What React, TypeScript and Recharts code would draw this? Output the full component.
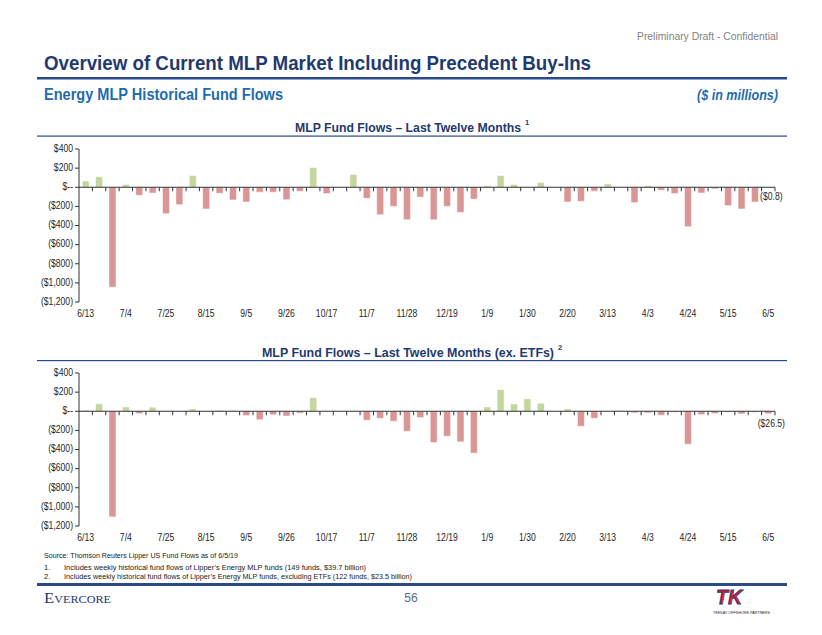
import { BarChart, Bar, XAxis, YAxis, Cell, ReferenceLine, LabelList } from "recharts";

const weeks = [
    "6/13", "6/20", "6/27", "7/4", "7/11", "7/18", "7/25", "8/1", "8/8", "8/15", "8/22", "8/29",
    "9/5", "9/12", "9/19", "9/26", "10/3", "10/10", "10/17", "10/24", "10/31", "11/7", "11/14", "11/21",
    "11/28", "12/5", "12/12", "12/19", "12/26", "1/2", "1/9", "1/16", "1/23", "1/30", "2/6", "2/13",
    "2/20", "2/27", "3/6", "3/13", "3/20", "3/27", "4/3", "4/10", "4/17", "4/24", "5/1", "5/8",
    "5/15", "5/22", "5/29", "6/5",
];

// weekly fund flows, $mm
const allFunds = [
    65, 110, -1045, 30, -84, -60, -276, -182, 122, -227, -63, -133,
    -154, -52, -52, -130, -42, 206, -66, 0, 133, -115, -287, -200,
    -340, -103, -340, -200, -263, -124, 15, 122, 28, 0, 49, 0,
    -154, -147, -42, 35, 0, -161, 17, -31, -66, -413, -60, -17,
    -192, -227, -154, -0.8,
];

const exEtfs = [
    12, 78, -1105, 45, -25, 42, 3, 0, 24, 0, 10, 10,
    -45, -88, -37, -50, -20, 142, 0, 0, -7, -94, -73, -104,
    -209, -66, -327, -261, -320, -438, 45, 226, 77, 129, 84, 0,
    24, -157, -73, 0, 8, -17, -17, -42, -10, -345, -35, -24,
    -10, -28, -10, -26.5,
];

const yTicks = [400, 200, 0, -200, -400, -600, -800, -1000, -1200];

const GREEN = "#c3d69b";
const RED = "#d99694";
const NAVY = "#1f3a6e";
const BLUE = "#1f6bb0";
const RULE = "#2b4a8b";
const FONT = "Arial, 'Liberation Sans', sans-serif";
const SQUEEZE = 0.82; // fake Arial Narrow

const fmtMoney = (v: number) => {
    if (v === 0) return "$--";
    const s = "$" + Math.abs(v).toLocaleString("en-US");
    return v < 0 ? `(${s})` : s;
};

function NarrowText({ x, y, anchor, size = 10.5, fill = "#262626", children }: any) {
    return (
        <g transform={`translate(${x},${y})`}>
            <text transform={`scale(${SQUEEZE},1)`} textAnchor={anchor} dominantBaseline="middle"
                fontSize={size} fill={fill} fontFamily={FONT}>
                {children}
            </text>
        </g>
    );
}

const XTick = (p: any) => (
    <NarrowText x={p.x} y={p.y + 4} anchor="middle">{p.payload.value}</NarrowText>
);

const YTick = (p: any) => (
    <NarrowText x={p.x} y={p.y} anchor="end">{fmtMoney(p.payload.value)}</NarrowText>
);

function ZeroAxis(props: any) {
    const { x1, x2, y1 } = props;
    const n = weeks.length;
    const step = (x2 - x1) / n;
    const marks = [];
    for (let i = 1; i <= n; i++) {
        const x = x1 + step * i;
        marks.push(<line key={i} x1={x} x2={x} y1={y1} y2={y1 + 4} stroke="#333" strokeWidth={1} />);
    }
    return (
        <g>
            <line x1={x1} x2={x2} y1={y1} y2={y1} stroke="#333" strokeWidth={1} />
            {marks}
        </g>
    );
}

const EndLabel = (p: any) => {
    if (p.value == null) return null;
    const bottom = Math.max(p.y, p.y + p.height);
    return <NarrowText x={p.x + p.width / 2 + 3} y={bottom + 10} anchor="middle">{p.value}</NarrowText>;
};

function FlowChart({ values, top }: { values: number[]; top: number }) {
    const last = values.length - 1;
    const data = weeks.map((w, i) => ({
        week: w,
        flow: values[i],
        note: i === last ? fmtMoney(values[i]) : undefined,
    }));

    return (
        <div style={{ position: "absolute", left: 0, top }}>
            <BarChart width={822} height={185} data={data} barCategoryGap="24%"
                margin={{ top: 9, right: 47, bottom: 3, left: 0 }}>
                <XAxis dataKey="week" interval={2} axisLine={false} tickLine={false} height={20} tick={XTick} />
                <YAxis width={79} domain={[-1200, 400]} ticks={yTicks} interval={0}
                    axisLine={{ stroke: "#333" }} tickLine={{ stroke: "#333" }} tickSize={4} tick={YTick} />
                <ReferenceLine y={0} shape={ZeroAxis} />
                <Bar dataKey="flow" isAnimationActive={false} stroke="#ffffff" strokeOpacity={0.5}>
                    {data.map((d, i) => (
                        <Cell key={`c-${i}`} fill={d.flow >= 0 ? GREEN : RED} />
                    ))}
                    <LabelList dataKey="note" content={EndLabel} />
                </Bar>
            </BarChart>
        </div>
    );
}

// page text, stretched to the widths used on the slide
function T({ x, y, w, size, anchor = "start", weight = "normal", italic = false, fill = "#222", family = FONT, children }: any) {
    return (
        <text x={x} y={y} textLength={w} lengthAdjust="spacingAndGlyphs" textAnchor={anchor}
            fontSize={size} fontWeight={weight} fontStyle={italic ? "italic" : "normal"} fill={fill} fontFamily={family}>
            {children}
        </text>
    );
}

export default function App() {
    return (
        <div style={{ position: "absolute", left: 0, top: 0, width: 822, height: 635, background: "#fff", overflow: "hidden" }}>
            <svg width={822} height={635} style={{ position: "absolute", left: 0, top: 0 }}>
                <T x={778} y={40} w={141} size={10.5} anchor="end" fill="#7f7f7f">Preliminary Draft - Confidential</T>
                <T x={44} y={70} w={547} size={21} weight="bold" fill={NAVY}>Overview of Current MLP Market Including Precedent Buy-Ins</T>
                <rect x={37} y={77} width={750} height={2.5} fill={RULE} />
                <T x={44} y={99.5} w={239} size={16} weight="bold" fill={BLUE}>Energy MLP Historical Fund Flows</T>
                <T x={778} y={99.5} w={81} size={15} weight="bold" italic fill={BLUE} anchor="end">($ in millions)</T>

                <T x={295} y={131.5} w={226} size={12.5} weight="bold" fill={NAVY}>MLP Fund Flows – Last Twelve Months</T>
                <text x={525} y={125} fontSize={7.5} fontWeight="bold" fill={NAVY} fontFamily={FONT}>1</text>
                <rect x={37} y={135.5} width={750} height={1.2} fill={RULE} />

                <T x={262} y={356.5} w={292} size={12.5} weight="bold" fill={NAVY}>MLP Fund Flows – Last Twelve Months (ex. ETFs)</T>
                <text x={558} y={350} fontSize={7.5} fontWeight="bold" fill={NAVY} fontFamily={FONT}>2</text>
                <rect x={37} y={360} width={750} height={1.2} fill={RULE} />

                <T x={44} y={557.5} w={194} size={7.5}>Source: Thomson Reuters Lipper US Fund Flows as of 6/5/19</T>
                <text x={44} y={569.5} fontSize={7.5} fill="#222" fontFamily={FONT}>1.</text>
                <T x={64} y={569.5} w={302} size={7.5}>Includes weekly historical fund flows of Lipper’s Energy MLP funds (149 funds, $39.7 billion)</T>
                <text x={44} y={578.5} fontSize={7.5} fill="#222" fontFamily={FONT}>2.</text>
                <T x={64} y={578.5} w={348} size={7.5}>Includes weekly historical fund flows of Lipper’s Energy MLP funds, excluding ETFs (122 funds, $23.5 billion)</T>
                <rect x={37} y={583} width={750} height={3} fill={RULE} />

                <text x={44} y={603} fontSize={15} fill={NAVY} fontFamily="'Liberation Serif', serif" style={{ fontVariant: "small-caps" }}
                    textLength={67} lengthAdjust="spacingAndGlyphs">Evercore</text>
                <text x={411} y={601.5} textAnchor="middle" fontSize={12} fill="#556a8c" fontFamily={FONT}>56</text>

                <text x={716} y={604} fontSize={21} fontWeight="bold" fontStyle="italic" fill="#d7193e" stroke={NAVY} strokeWidth={0.8}
                    fontFamily={FONT} textLength={26} lengthAdjust="spacingAndGlyphs">TK</text>
                <text x={713} y={614} fontSize={3.5} fill="#222" fontFamily={FONT} textLength={57} lengthAdjust="spacingAndGlyphs">TEEKAY OFFSHORE PARTNERS</text>
            </svg>

            <FlowChart values={allFunds} top={140} />
            <FlowChart values={exEtfs} top={364} />
        </div>
    );
}
